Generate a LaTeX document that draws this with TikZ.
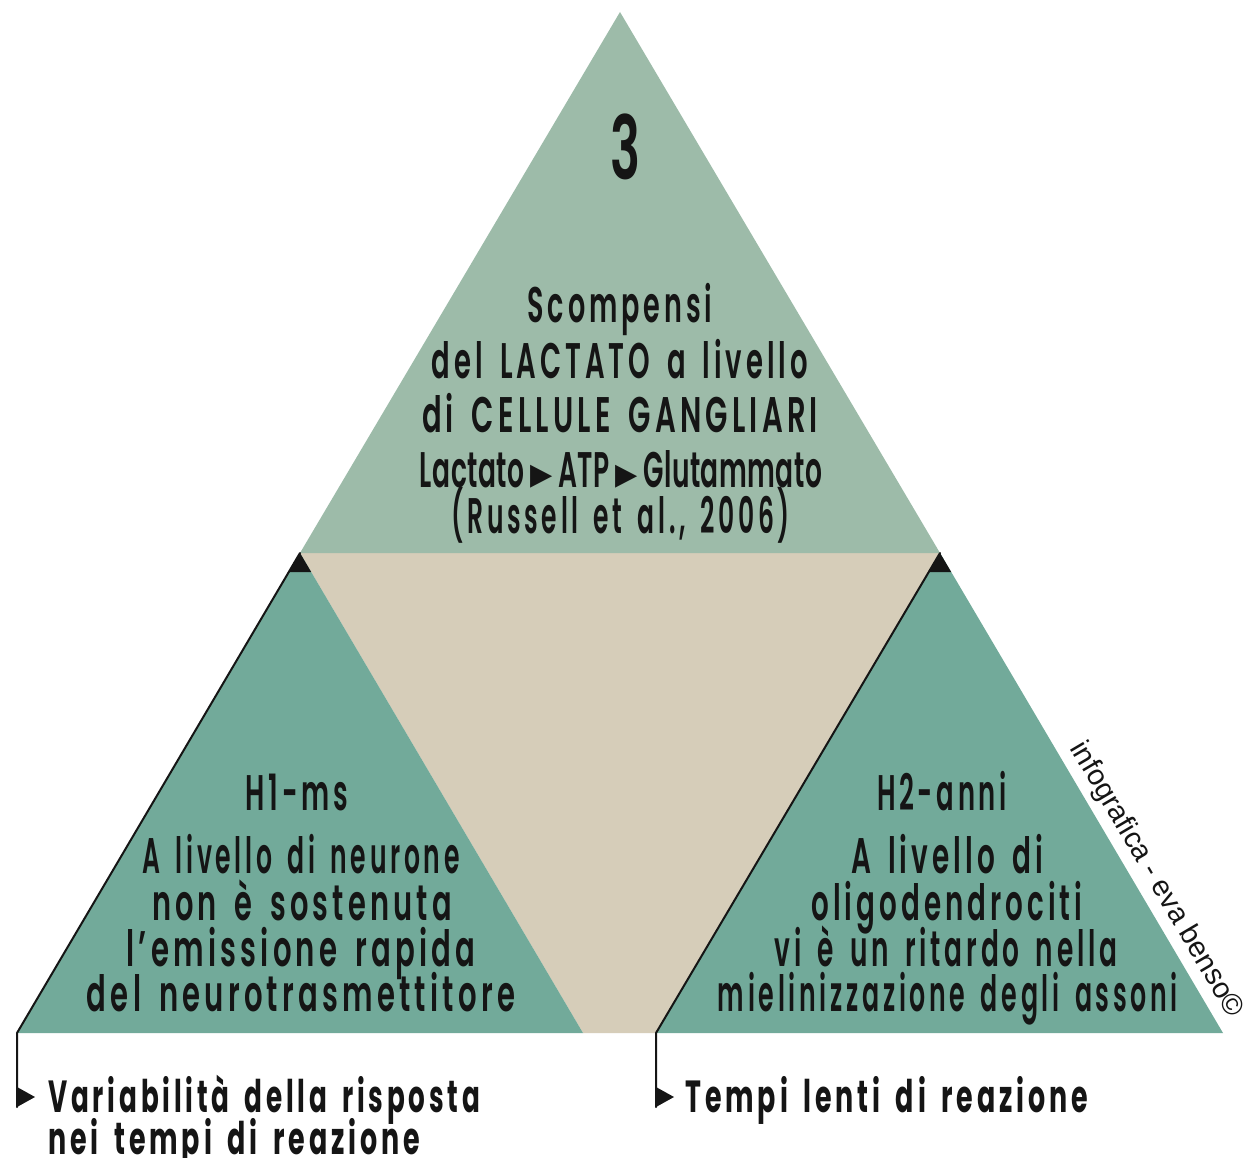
\documentclass[tikz,border=0pt]{standalone}
\usepackage{fontspec}
\usepackage{graphicx}
\newfontfamily\condfont{Poppins SemiBold}[FakeStretch=0.55, LetterSpace=8, WordSpace=1.6]
\newfontfamily\condtight{Poppins SemiBold}[FakeStretch=0.55, LetterSpace=1, WordSpace=1.6]
\newfontfamily\condheavy{Poppins Bold}[FakeStretch=0.55, LetterSpace=8, WordSpace=1.6]
\newfontfamily\symfont{DejaVu Sans}
\newfontfamily\creditfont{Liberation Sans}

\definecolor{sage}{HTML}{9DBBA9}
\definecolor{teal}{HTML}{72AA9A}
\definecolor{sand}{HTML}{D6CDB9}
\definecolor{ink}{HTML}{151515}

% stretch a line of text horizontally to a given width, keeping its height
\newcommand\fitline[2]{\resizebox{#1pt}{\height}{#2}}
\newcommand\tri{{\symfont\fontsize{30}{30}\selectfont\raisebox{3pt}{▶}}}

\begin{document}
\begin{tikzpicture}[x=1pt, y=-1pt,
    tline/.style={anchor=base, inner sep=0pt, text=ink,
      font=\condfont\fontsize{50}{60}\selectfont},
    bline/.style={tline, anchor=base west,
      font=\condheavy\fontsize{45}{54}\selectfont},
    edge/.style={draw=ink, line width=2pt, line cap=round, line join=round},
    tip/.style={fill=ink},
    credit/.style={inner sep=0pt, text=ink,
      font=\creditfont\fontsize{29}{29}\selectfont}]

  \useasboundingbox (0,0) rectangle (1248,1158);
  \fill[white] (0,0) rectangle (1248,1158);

  % corners of the three triangles
  \coordinate (top)    at (620,12);
  \coordinate (lapex)  at (300,553);
  \coordinate (rapex)  at (940,553);
  \coordinate (lleft)  at (17,1033);
  \coordinate (lright) at (583,1033);
  \coordinate (rleft)  at (656,1033);
  \coordinate (rright) at (1223,1033);

  % sand field between the triangles
  \fill[sand] (lapex) -- (rapex) -- (rleft) -- (lright) -- cycle;
  % upper triangle
  \fill[sage] (top) -- (lapex) -- (rapex) -- cycle;
  % lower triangles with their black tips
  \fill[teal] (lapex) -- (lleft) -- (lright) -- cycle;
  \fill[teal] (rapex) -- (rleft) -- (rright) -- cycle;
  \fill[ink] (lapex) -- ++(-11.2,19) -- ++(22.4,0) -- cycle;
  \fill[ink] (rapex) -- ++(-11.2,19) -- ++(22.4,0) -- cycle;

  % upper triangle text
  \node[tline, font=\condfont\fontsize{88}{88}\selectfont] (num) at (625,180) {\fitline{30}{3}};
  \node[tline] (t1) at (620,323) {\fitline{185}{Scompensi}};
  \node[tline] (t2) at (620,378) {\fitline{376}{del LACTATO a livello}};
  \node[tline] (t3) at (620,432) {\fitline{396}{di CELLULE GANGLIARI}};
  \node[tline, font=\condtight\fontsize{50}{60}\selectfont] (t4) at (621,487)
    {\fitline{402}{Lactato\kern6pt\tri\kern6pt ATP\kern6pt\tri\kern6pt Glutammato}};
  \node[tline] (t5) at (621,533) {\fitline{338}{(Russell et al., 2006)}};

  % left triangle text
  \node[tline] (l1) at (297,810) {\fitline{103}{H1-ms}};
  \node[tline] (l2) at (301,873) {\fitline{317}{A livello di neurone}};
  \node[tline] (l3) at (302,920) {\fitline{300}{non è sostenuta}};
  \node[tline] (l4) at (301,966) {\fitline{349}{l’emissione rapida}};
  \node[tline] (l5) at (301,1011) {\fitline{428}{del neurotrasmettitore}};

  % right triangle text
  \node[tline] (r1) at (942,810) {\fitline{130}{H2-anni}};
  \node[tline] (r2) at (947,873) {\fitline{192}{A livello di}};
  \node[tline] (r3) at (947,920) {\fitline{271}{oligodendrociti}};
  \node[tline] (r4) at (946,966) {\fitline{343}{vi è un ritardo nella}};
  \node[tline] (r5) at (948,1011) {\fitline{460}{mielinizzazione degli assoni}};

  % outcomes below the lower triangles
  \node[bline] (o1) at (48,1112) {\fitline{432}{Variabilità della risposta}};
  \node[bline] (o2) at (48,1154) {\fitline{372}{nei tempi di reazione}};
  \node[bline] (o3) at (685,1112) {\fitline{403}{Tempi lenti di reazione}};

  % pointers from the lower triangles to their outcomes
  \coordinate (lend) at (lleft |- 0,1107);
  \coordinate (rend) at (rleft |- 0,1107);
  \draw[edge] (lapex) -- (lleft) -- (lend);
  \draw[edge] (rapex) -- (rleft) -- (rend);
  \fill[tip] (lleft |- 0,1087) -- (35,1097) -- (lend) -- cycle;
  \fill[tip] (rleft |- 0,1087) -- (674,1097) -- (rend) -- cycle;

  % credit along the right edge
  \node[credit, rotate=-59.5] (cr) at (1156,880) {infografica - eva benso©};
\end{tikzpicture}
\end{document}
